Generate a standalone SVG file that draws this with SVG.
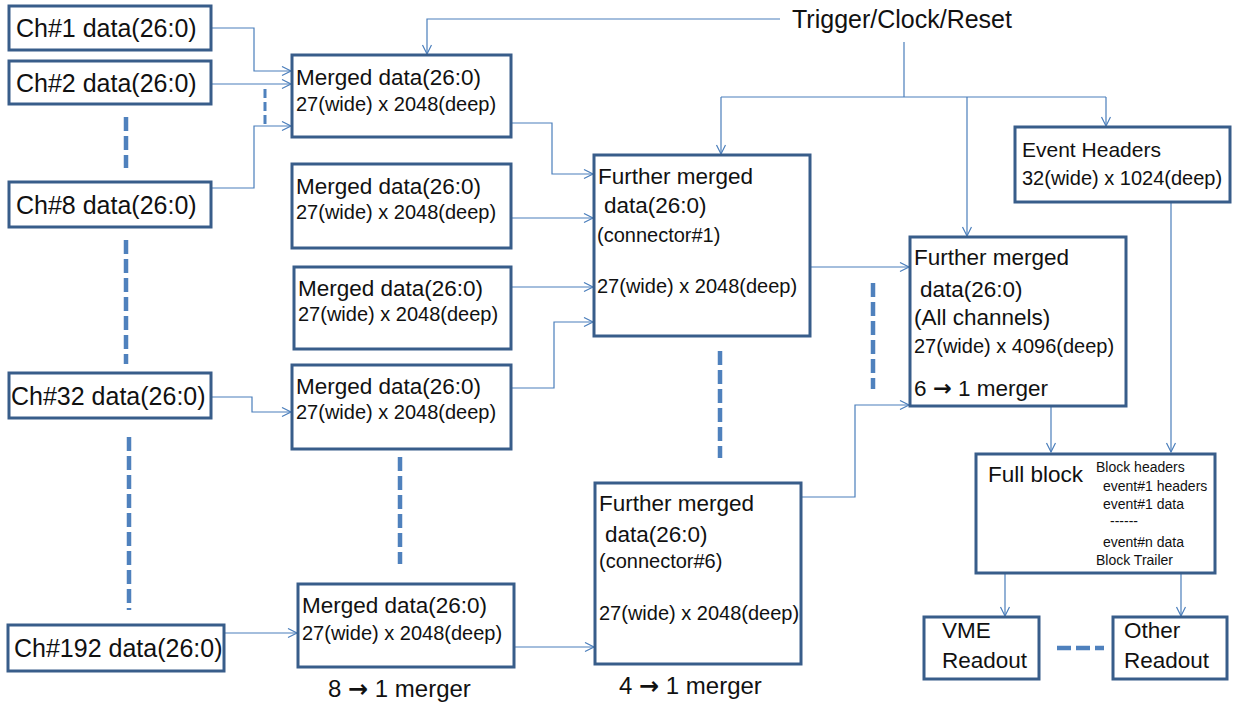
<svg xmlns="http://www.w3.org/2000/svg" width="1235" height="706" viewBox="0 0 1235 706">
<defs>
<style>
.box{fill:#fff;stroke:#385D8A;stroke-width:3}
.t{font-family:"Liberation Sans",Arial,sans-serif;fill:#111}
.ch{font-size:25px}
.l1{font-size:22.5px}
.l2{font-size:20px}
.sm{font-size:14px}
.big{font-size:24px}
.arr{font-family:"DejaVu Sans",sans-serif;font-weight:bold}
.c{fill:none;stroke:#4A7EBB;stroke-width:1.2}
.ca{fill:none;stroke:#4A7EBB;stroke-width:1.2;marker-end:url(#ah)}
.dash{fill:none;stroke:#4F81BD;stroke-width:4.5;stroke-dasharray:14 5}
.dash2{fill:none;stroke:#4F81BD;stroke-width:3;stroke-dasharray:9 4}
</style>
<marker id="ah" markerWidth="12" markerHeight="12" refX="10" refY="5" orient="auto" markerUnits="userSpaceOnUse">
<path d="M1,0.5 L10,5 L1,9.5" fill="none" stroke="#4A7EBB" stroke-width="1.2"/>
</marker>
</defs>
<rect width="1235" height="706" fill="#fff"/>

<g id="connectors">
<polyline class="ca" points="211,28 254,28 254,71 291,71"/>
<polyline class="ca" points="211,84 291,84"/>
<polyline class="ca" points="211,188 254,188 254,126 291,126"/>
<polyline class="ca" points="211,397 252,397 252,412 291,412"/>
<polyline class="ca" points="224,633 297,633"/>
<polyline class="ca" points="511,123 552,123 552,174 593,174"/>
<polyline class="ca" points="511,218 593,218"/>
<polyline class="ca" points="511,287 593,287"/>
<polyline class="ca" points="511,388 554,388 554,322 593,322"/>
<polyline class="ca" points="514,647 594,647"/>
<polyline class="ca" points="810,267 909,267"/>
<polyline class="ca" points="801,497 855,497 855,405 909,405"/>
<polyline class="ca" points="1051,406 1051,452"/>
<polyline class="ca" points="1171,202 1171,452"/>
<polyline class="ca" points="1005,573 1005,616"/>
<polyline class="ca" points="1181,573 1181,616"/>
<polyline class="ca" points="780,19 427,19 427,54"/>
<polyline class="c" points="904,42 904,97"/>
<polyline class="c" points="721,97 1106,97"/>
<polyline class="ca" points="721,97 721,154"/>
<polyline class="ca" points="967,97 967,236"/>
<polyline class="ca" points="1106,97 1106,126"/>
<line class="dash" x1="126" y1="117" x2="126" y2="168"/>
<line class="dash" x1="126" y1="240" x2="126" y2="364"/>
<line class="dash" x1="129" y1="437" x2="129" y2="610"/>
<line class="dash2" x1="265" y1="89" x2="265" y2="124"/>
<line class="dash" x1="400" y1="457" x2="400" y2="564"/>
<line class="dash" x1="720" y1="351" x2="720" y2="458"/>
<line class="dash" x1="873" y1="283" x2="873" y2="389"/>
<line class="dash" x1="1057" y1="648" x2="1104" y2="648"/>
</g>

<g id="trigger">
<text class="t" x="792" y="28" style="font-size:25px">Trigger/Clock/Reset</text>
</g>

<g id="ch1"><rect class="box" x="9" y="6" width="202" height="44"/><text class="t ch" x="16" y="37">Ch#1 data(26:0)</text></g>
<g id="ch2"><rect class="box" x="9" y="61" width="202" height="43"/><text class="t ch" x="16" y="92">Ch#2 data(26:0)</text></g>
<g id="ch8"><rect class="box" x="9" y="182" width="202" height="45"/><text class="t ch" x="16" y="214">Ch#8 data(26:0)</text></g>
<g id="ch32"><rect class="box" x="9" y="373" width="202" height="45"/><text class="t ch" x="11" y="405">Ch#32 data(26:0)</text></g>
<g id="ch192"><rect class="box" x="8" y="625" width="216" height="46"/><text class="t ch" x="14" y="657">Ch#192 data(26:0)</text></g>

<g id="m1"><rect class="box" x="292" y="55" width="219" height="82"/><text class="t l1" x="296" y="85">Merged data(26:0)</text><text class="t l2" x="296" y="111">27(wide) x 2048(deep)</text></g>
<g id="m2"><rect class="box" x="292" y="164" width="219" height="84"/><text class="t l1" x="296" y="194">Merged data(26:0)</text><text class="t l2" x="296" y="219">27(wide) x 2048(deep)</text></g>
<g id="m3"><rect class="box" x="294" y="267" width="217" height="82"/><text class="t l1" x="298" y="296">Merged data(26:0)</text><text class="t l2" x="298" y="321">27(wide) x 2048(deep)</text></g>
<g id="m4"><rect class="box" x="292" y="365" width="219" height="84"/><text class="t l1" x="296" y="394">Merged data(26:0)</text><text class="t l2" x="296" y="419">27(wide) x 2048(deep)</text></g>
<g id="m5"><rect class="box" x="298" y="584" width="216" height="83"/><text class="t l1" x="302" y="613">Merged data(26:0)</text><text class="t l2" x="302" y="640">27(wide) x 2048(deep)</text></g>
<g id="label8to1"><text class="t big" x="328" y="697">8 <tspan class="arr">→</tspan> 1 merger</text></g>

<g id="f1"><rect class="box" x="594" y="155" width="216" height="181"/>
<text class="t l1" x="598" y="184">Further merged</text>
<text class="t l1" x="604" y="213">data(26:0)</text>
<text class="t l2" x="597" y="242">(connector#1)</text>
<text class="t l2" x="597" y="293">27(wide) x 2048(deep)</text></g>

<g id="f6"><rect class="box" x="595" y="483" width="206" height="181"/>
<text class="t l1" x="599" y="511">Further merged</text>
<text class="t l1" x="605" y="542">data(26:0)</text>
<text class="t l2" x="599" y="568">(connector#6)</text>
<text class="t l2" x="599" y="620">27(wide) x 2048(deep)</text></g>
<g id="label4to1"><text class="t big" x="619" y="694">4 <tspan class="arr">→</tspan> 1 merger</text></g>

<g id="fall"><rect class="box" x="910" y="237" width="216" height="169"/>
<text class="t l1" x="914" y="265">Further merged</text>
<text class="t l1" x="920" y="297">data(26:0)</text>
<text class="t l1" x="914" y="325">(All channels)</text>
<text class="t l2" x="914" y="353">27(wide) x 4096(deep)</text>
<text class="t l1" x="914" y="396">6 <tspan class="arr">→</tspan> 1 merger</text></g>

<g id="evh"><rect class="box" x="1015" y="127" width="215" height="75"/>
<text class="t" x="1022" y="157" style="font-size:21px">Event Headers</text>
<text class="t l2" x="1022" y="185">32(wide) x 1024(deep)</text></g>

<g id="fullblock"><rect class="box" x="976" y="454" width="239" height="119"/>
<text class="t l1" x="988" y="482">Full block</text>
<text class="t sm" x="1096" y="472">Block headers</text>
<text class="t sm" x="1103" y="491">event#1 headers</text>
<text class="t sm" x="1103" y="509">event#1 data</text>
<text class="t sm" x="1110" y="526">------</text>
<text class="t sm" x="1103" y="547">event#n data</text>
<text class="t sm" x="1096" y="565">Block Trailer</text></g>

<g id="vme"><rect class="box" x="924" y="617" width="115" height="62"/>
<text class="t l1" x="942" y="638">VME</text><text class="t l1" x="942" y="668">Readout</text></g>
<g id="other"><rect class="box" x="1113" y="617" width="114" height="62"/>
<text class="t l1" x="1124" y="638">Other</text><text class="t l1" x="1124" y="668">Readout</text></g>
</svg>
